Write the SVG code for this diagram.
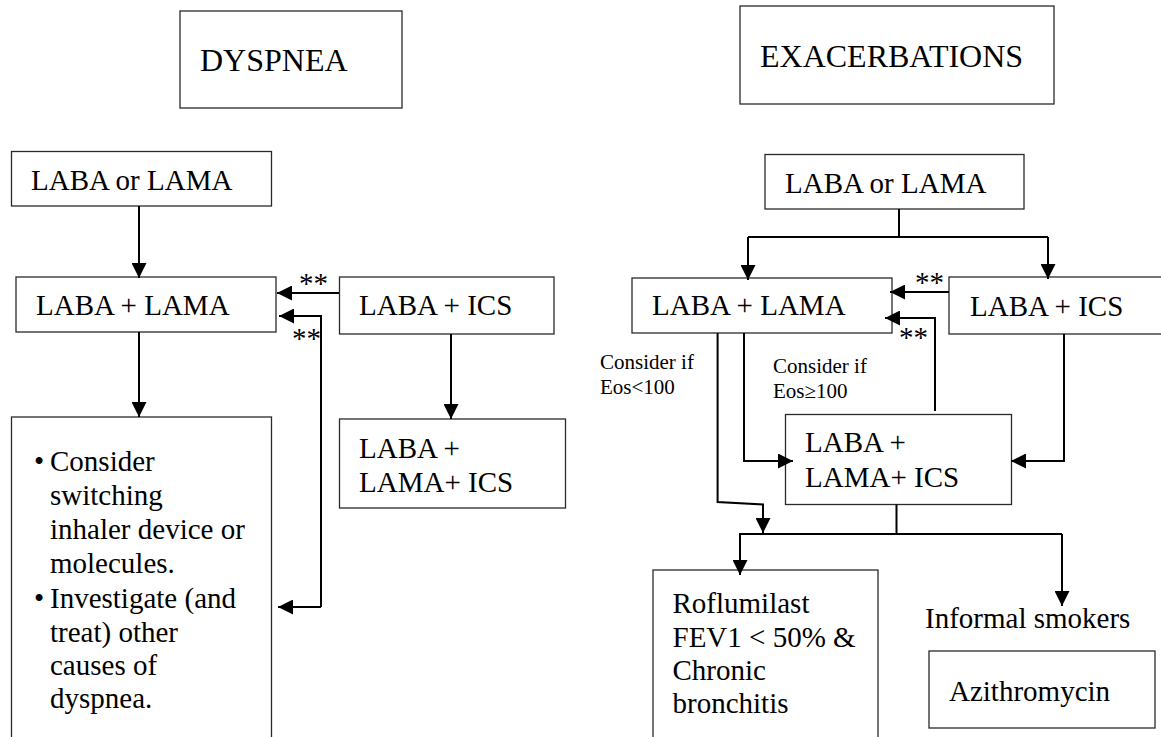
<svg xmlns="http://www.w3.org/2000/svg" width="1161" height="737" viewBox="0 0 1161 737">
<style>
  .box { fill: #ffffff; stroke: #2a2a2a; stroke-width: 1.3; }
  .t { font-family: "Liberation Serif", "Times New Roman", serif; font-size: 29px; fill: #000; }
  .title { font-family: "Liberation Serif", "Times New Roman", serif; font-size: 32px; fill: #000; }
  .small { font-family: "Liberation Serif", "Times New Roman", serif; font-size: 21px; fill: #000; }
  .c { fill: none; stroke: #000; stroke-width: 2; }
  .a { fill: none; stroke: #000; stroke-width: 2; marker-end: url(#arr); }
</style>
<defs>
  <marker id="arr" markerUnits="userSpaceOnUse" markerWidth="15" markerHeight="15" refX="15" refY="7.5" orient="auto" viewBox="0 0 15 15">
    <path d="M0,0 L15,7.5 L0,15 Z" fill="#000"/>
  </marker>
</defs>
<rect width="1161" height="737" fill="#ffffff"/>

<!-- LEFT: DYSPNEA -->
<g id="dyspnea">
  <rect class="box" x="180" y="11" width="222" height="97"/>
  <text class="title" x="200" y="71">DYSPNEA</text>
</g>
<g id="l-laba-or-lama">
  <rect class="box" x="11.5" y="151.5" width="260" height="54.5"/>
  <text class="t" x="31" y="190">LABA or LAMA</text>
</g>
<g id="l-laba-lama">
  <rect class="box" x="16" y="277" width="260" height="55"/>
  <text class="t" x="36" y="315">LABA + LAMA</text>
</g>
<g id="l-laba-ics">
  <rect class="box" x="339.5" y="277" width="214.5" height="57"/>
  <text class="t" x="359" y="315">LABA + ICS</text>
</g>
<g id="l-advice">
  <rect class="box" x="11.5" y="417" width="260" height="340"/>
  <text class="t" x="34" y="471">•</text>
  <text class="t" x="50" y="471">Consider</text>
  <text class="t" x="50" y="505">switching</text>
  <text class="t" x="50" y="539">inhaler device or</text>
  <text class="t" x="50" y="573">molecules.</text>
  <text class="t" x="34" y="608">•</text>
  <text class="t" x="50" y="608">Investigate (and</text>
  <text class="t" x="50" y="642">treat) other</text>
  <text class="t" x="50" y="675">causes of</text>
  <text class="t" x="50" y="708">dyspnea.</text>
</g>
<g id="l-triple">
  <rect class="box" x="339.5" y="419" width="226" height="89"/>
  <text class="t" x="359" y="458">LABA +</text>
  <text class="t" x="359" y="492">LAMA+ ICS</text>
</g>

<!-- RIGHT: EXACERBATIONS -->
<g id="exacerbations">
  <rect class="box" x="740" y="6" width="314" height="98"/>
  <text class="title" x="760" y="67">EXACERBATIONS</text>
</g>
<g id="r-laba-or-lama">
  <rect class="box" x="765" y="154.5" width="259" height="54.5"/>
  <text class="t" x="785" y="193">LABA or LAMA</text>
</g>
<g id="r-laba-lama">
  <rect class="box" x="632" y="278" width="260" height="55"/>
  <text class="t" x="652" y="315">LABA + LAMA</text>
</g>
<g id="r-laba-ics">
  <rect class="box" x="949" y="277" width="230" height="57"/>
  <text class="t" x="970" y="316">LABA + ICS</text>
</g>
<g id="r-triple">
  <rect class="box" x="785.5" y="414.5" width="226" height="90"/>
  <text class="t" x="805" y="452">LABA +</text>
  <text class="t" x="805" y="487">LAMA+ ICS</text>
</g>
<g id="r-roflumilast">
  <rect class="box" x="653" y="570" width="225" height="200"/>
  <text class="t" x="672.5" y="613">Roflumilast</text>
  <text class="t" x="672.5" y="647">FEV1 &lt; 50% &amp;</text>
  <text class="t" x="672.5" y="680">Chronic</text>
  <text class="t" x="672.5" y="713">bronchitis</text>
</g>
<g id="r-informal">
  <text class="t" x="925" y="628">Informal smokers</text>
</g>
<g id="r-azithro">
  <rect class="box" x="929" y="651" width="226" height="77"/>
  <text class="t" x="949" y="701">Azithromycin</text>
</g>

<!-- CONNECTORS -->
<g id="connectors">
  <!-- left -->
  <path class="a" d="M139,206 V278"/>
  <path class="a" d="M139,332 V417"/>
  <path class="a" d="M339,293 H277"/>
  <path class="a" d="M321,607 V316 H279"/>
  <path class="a" d="M321,607 H278"/>
  <path class="a" d="M451,334 V419"/>
  <!-- right -->
  <path class="c" d="M899,209 V237"/>
  <path class="c" d="M748,237 H1048"/>
  <path class="a" d="M748,237 V280"/>
  <path class="a" d="M1048,237 V279"/>
  <path class="a" d="M949,292 H890"/>
  <path class="a" d="M935,411 V318 H885"/>
  <path class="a" d="M717.6,333 V502 L763,504.5 V533"/>
  <path class="a" d="M744,333 V461 H793"/>
  <path class="a" d="M1064,334 V461 H1011"/>
  <path class="c" d="M896.5,504.5 V534"/>
  <path class="c" d="M739,534 H1062"/>
  <path class="a" d="M740,534 V575"/>
  <path class="a" d="M1062,534 V606"/>
</g>

<!-- connector labels -->
<g id="labels">
  <text class="t" x="299" y="292.5">**</text>
  <text class="t" x="292" y="347.5">**</text>
  <text class="t" x="915" y="292">**</text>
  <text class="t" x="899" y="347">**</text>
  <text class="small" x="600" y="369">Consider if</text>
  <text class="small" x="600" y="394">Eos&lt;100</text>
  <text class="small" x="773" y="373">Consider if</text>
  <text class="small" x="773" y="398">Eos≥100</text>
</g>
</svg>
